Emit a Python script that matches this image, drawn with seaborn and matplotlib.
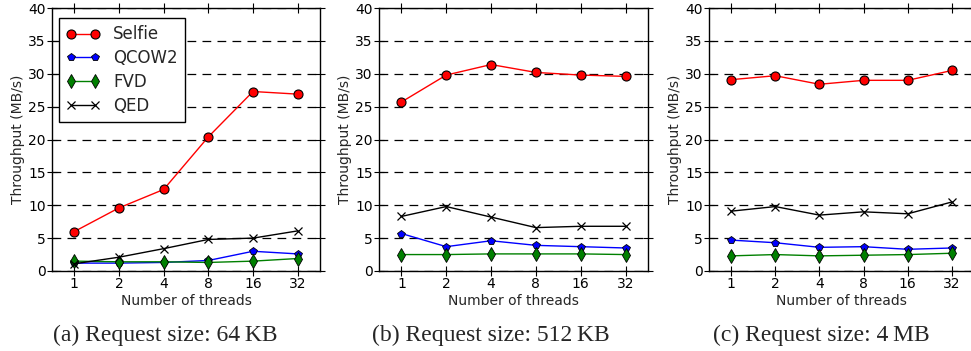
import numpy as np
import pandas as pd
import seaborn as sns
import matplotlib
matplotlib.use("Agg")
import matplotlib.pyplot as plt

# data
threads = [1, 2, 4, 8, 16, 32]
series_names = ["Selfie", "QCOW2", "FVD", "QED"]

selfie_64k = [6.0, 9.6, 12.4, 20.4, 27.3, 26.9]
qcow2_64k = [1.2, 1.2, 1.3, 1.6, 3.0, 2.6]
fvd_64k = [1.5, 1.4, 1.4, 1.3, 1.5, 1.9]
qed_64k = [1.1, 2.1, 3.4, 4.8, 5.0, 6.1]

selfie_512k = [25.7, 29.8, 31.4, 30.2, 29.8, 29.6]
qcow2_512k = [5.7, 3.7, 4.6, 3.9, 3.7, 3.5]
fvd_512k = [2.5, 2.5, 2.6, 2.6, 2.6, 2.5]
qed_512k = [8.3, 9.8, 8.2, 6.6, 6.8, 6.8]

selfie_4m = [29.1, 29.7, 28.4, 29.0, 29.0, 30.5]
qcow2_4m = [4.7, 4.3, 3.6, 3.7, 3.3, 3.5]
fvd_4m = [2.3, 2.5, 2.3, 2.4, 2.5, 2.7]
qed_4m = [9.1, 9.8, 8.5, 9.0, 8.7, 10.5]

captions = ["(a) Request size: 64\u2009KB",
            "(b) Request size: 512\u2009KB",
            "(c) Request size: 4\u2009MB"]

panels = [
    [selfie_64k, qcow2_64k, fvd_64k, qed_64k],
    [selfie_512k, qcow2_512k, fvd_512k, qed_512k],
    [selfie_4m, qcow2_4m, fvd_4m, qed_4m],
]

# marker styles per series
styles = {
    "Selfie": dict(color="red", marker="o", markersize=6.5, markeredgecolor="black", markeredgewidth=0.8),
    "QCOW2": dict(color="blue", marker="p", markersize=6, markeredgecolor="black", markeredgewidth=0.6),
    "FVD": dict(color="green", marker="d", markersize=7, markeredgecolor="black", markeredgewidth=0.6),
    "QED": dict(color="black", marker="x", markersize=6, markeredgecolor="black", markeredgewidth=0.9),
}

sns.set_style("ticks")
plt.rcParams["font.family"] = ["DejaVu Sans"]

W, H = 971, 351
fig = plt.figure(figsize=(W / 100, H / 100), dpi=100)

# axes boxes in pixels: left, right
boxes = [(52, 320), (379, 648), (709, 974)]
top_px, bottom_px = 8, 271
caption_x = [165, 491, 821]

for i, (vals, (l, r)) in enumerate(zip(panels, boxes)):
    ax = fig.add_axes([l / W, 1 - bottom_px / H, (r - l) / W, (bottom_px - top_px) / H])
    ax.set_axisbelow(True)
    for name, y in zip(series_names, vals):
        df = pd.DataFrame({"threads": threads, "tp": y})
        sns.lineplot(data=df, x="threads", y="tp", ax=ax, label=name, lw=1, **styles[name])

    ax.set_xscale("log", base=2)
    ax.set_xlim(2 ** -0.5, 2 ** 5.5)
    ax.set_xticks(threads)
    ax.set_xticklabels([str(t) for t in threads])
    ax.minorticks_off()
    ax.set_ylim(0, 40)
    ax.set_yticks(np.arange(0, 41, 5))

    ax.yaxis.grid(True, color="black", linestyle=(0, (7, 5)), lw=0.9)
    ax.xaxis.grid(False)
    for sp in ax.spines.values():
        sp.set_color("black")
        sp.set_linewidth(1)
    ax.tick_params(direction="inout", length=7, width=0.8, labelsize=10, pad=1,
                   top=True, right=True, colors="black")

    ax.set_xlabel("Number of threads", fontsize=10, labelpad=2)
    ax.set_ylabel("Throughput (MB/s)", fontsize=10, labelpad=2)

    if i == 0:
        leg = ax.legend(loc="upper left", bbox_to_anchor=(0.026, 0.962), numpoints=2,
                        fontsize=12, frameon=True, fancybox=False, borderaxespad=0,
                        handlelength=2.0, labelspacing=0.35, borderpad=0.45)
        leg.get_frame().set_edgecolor("black")
        leg.get_frame().set_linewidth(1)
        leg.get_frame().set_alpha(1)
    elif ax.get_legend():
        ax.get_legend().remove()

    fig.text(caption_x[i] / W, 1 - 335 / H, captions[i], ha="center", va="center",
             fontsize=17, family=["Liberation Serif", "DejaVu Serif"])

fig.savefig("out.png", dpi=100)
